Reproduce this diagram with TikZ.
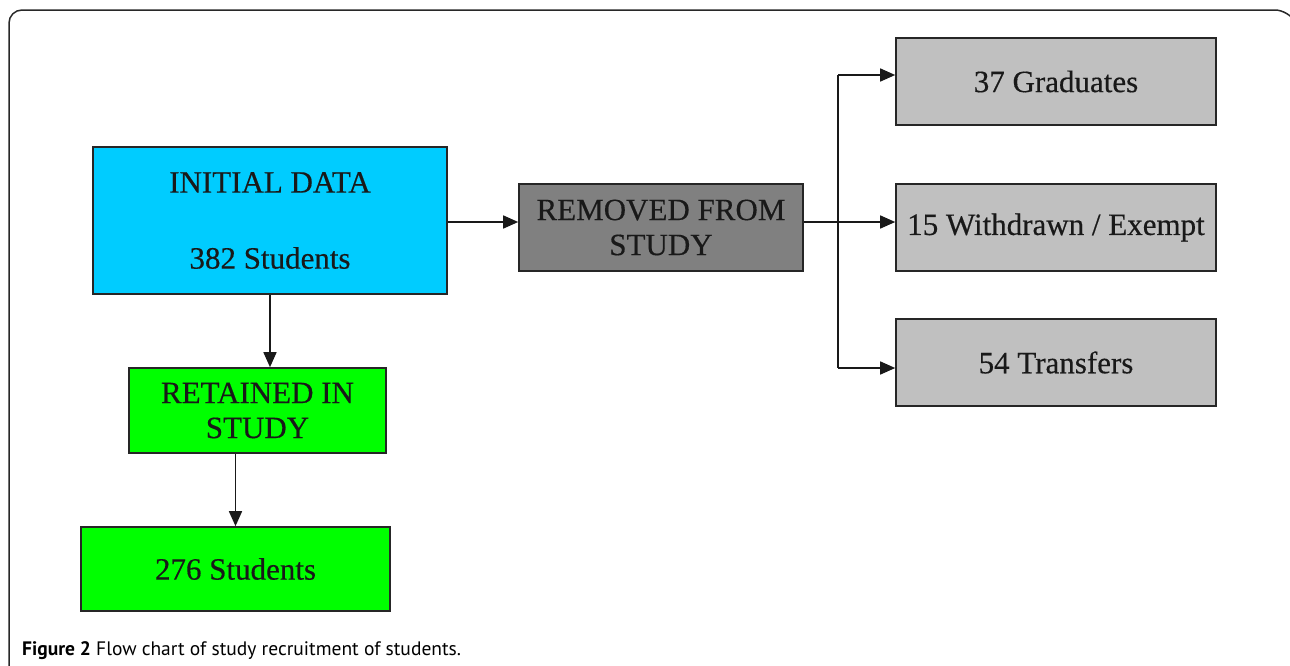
\documentclass[tikz,border=0pt]{standalone}
\usepackage{fontspec}
\setmainfont{Liberation Serif}
\newfontfamily\boxfont[FakeBold=0.4]{Liberation Serif}
\newfontfamily\capfont{PT Sans}
\usetikzlibrary{arrows.meta,calc}
\definecolor{cyanbox}{RGB}{0,204,255}
\definecolor{darkbox}{RGB}{128,128,128}
\definecolor{lightbox}{RGB}{192,192,192}
\definecolor{greenbox}{RGB}{0,255,0}
\definecolor{framecol}{RGB}{40,40,40}
\tikzset{
  box/.style={draw=black!85, line width=1.6pt, rectangle, inner sep=0pt, align=center,
    font=\boxfont\fontsize{31}{35}\selectfont, text=black!90},
  conn/.style={line width=1.5pt, draw=black!90},
  arr/.style={conn, -{Triangle[length=15pt,width=13pt]}},
}
\begin{document}
\begin{tikzpicture}[x=1pt,y=-1pt]
\useasboundingbox (0,0) rectangle (1290,665);
% outer frame
\draw[framecol, line width=1.5pt, rounded corners=13pt] (9,670) -- (9,10) -- (1288,10) -- (1300,30);
% nodes
\node[box, fill=cyanbox, minimum width=354pt, minimum height=147pt] (ini) at (270,220.5)
  {INITIAL DATA\\[41pt]382 Students};
\node[box, fill=darkbox, minimum width=284pt, minimum height=87pt] (rem) at (661,227.5)
  {REMOVED FROM\\STUDY};
\node[box, fill=lightbox, minimum width=320pt, minimum height=87pt] (grad) at (1056,81.5)
  {37 Graduates};
\node[box, fill=lightbox, minimum width=320pt, minimum height=87pt] (with) at (1056,227.5)
  {15 Withdrawn / Exempt};
\node[box, fill=lightbox, minimum width=320pt, minimum height=87pt] (trans) at (1056,362.5)
  {54 Transfers};
\node[box, fill=greenbox, minimum width=257pt, minimum height=85pt] (ret) at (257.5,410.5)
  {RETAINED IN\\STUDY};
\node[box, fill=greenbox, minimum width=309pt, minimum height=84pt] (stud) at (235.5,569)
  {276 Students};
% branch coordinates
\coordinate (bm) at (838,222);
\coordinate (bt) at (838,75);
\coordinate (bb) at (838,368);
% connectors
\draw[arr] (ini.east |- bm) -- (bm -| rem.west);
\draw[conn] (rem.east |- bm) -- (bm);
\draw[conn] (bt) -- (bb);
\draw[arr] (bt) -- (bt -| grad.west);
\draw[arr] (bm) -- (bm -| with.west);
\draw[arr] (bb) -- (bb -| trans.west);
\draw[arr] (ini.south) -- (ini.south |- ret.north);
\draw[arr] (stud.north |- ret.south) -- (stud.north);
% caption
\node[anchor=base west, inner sep=0pt, font=\capfont\fontsize{19.5}{22}\selectfont] (cap) at (22,655)
  {\textbf{Figure 2} Flow chart of study recruitment of students.};
\end{tikzpicture}
\end{document}
